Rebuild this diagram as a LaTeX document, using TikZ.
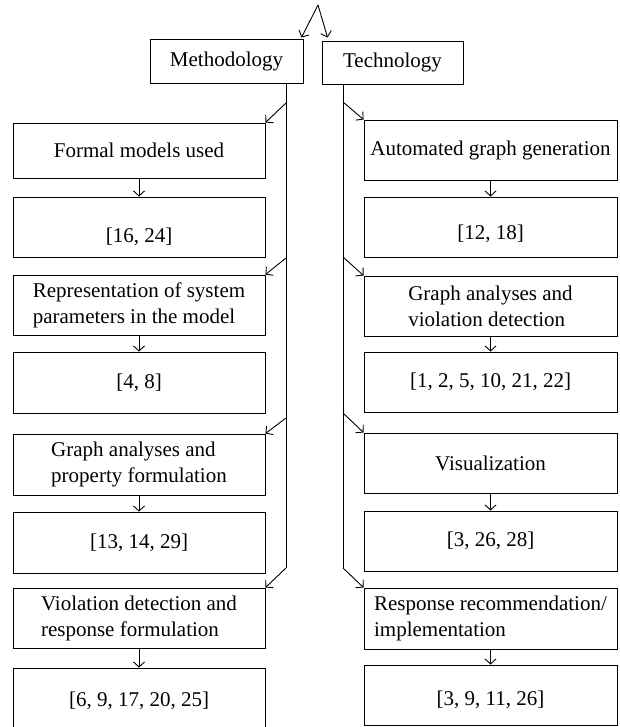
\documentclass[tikz,border=0pt]{standalone}
\usepackage{fontspec}
\setmainfont{Liberation Serif}
\usetikzlibrary{arrows.meta,calc}
\begin{document}
\begin{tikzpicture}[x=1pt,y=-1pt,
  box/.style={draw, line width=0.9pt, align=left, inner sep=0pt, font=\fontsize{21}{26}\selectfont},
  lbox/.style={box, minimum width=252pt},
  rbox/.style={box, minimum width=253pt},
  arr/.style={line width=0.9pt, -{Straight Barb[length=5pt,width=11pt]}},
  ln/.style={line width=0.9pt}]
\useasboundingbox (0,0) rectangle (619,727);
% top
\node[box, minimum width=153pt, minimum height=44pt] (M) at (226.5,61) {Methodology};
\node[box, minimum width=141pt, minimum height=43pt] (T) at (392.5,62.5) {Technology};
\coordinate (apex) at (318,5);
\draw[arr] (apex) -- ($(M.north east)+(-2,-1)$);
\draw[arr] (apex) -- ($(T.north west)+(6,-3)$);
% left column
\node[lbox, minimum height=55pt] (L1) at (139,150.5) {Formal models used};
\node[lbox, minimum height=60pt, text height=30pt, text depth=0pt] (L2) at (139,227) {[16, 24]};
\node[lbox, minimum height=60pt] (L3) at (139,305) {Representation of system\\parameters in the model};
\node[lbox, minimum height=61pt] (L4) at (139,382.5) {[4, 8]};
\node[lbox, minimum height=61pt] (L5) at (139,464.5) {Graph analyses and\\property formulation};
\node[lbox, minimum height=61pt] (L6) at (139,542.5) {[13, 14, 29]};
\node[lbox, minimum height=60pt] (L7) at (139,618) {Violation detection and\\response formulation};
\node[lbox, minimum height=59pt, text height=18pt, text depth=0pt] (L8) at (139,697.5) {[6, 9, 17, 20, 25]};
% right column
\node[rbox, minimum height=60pt] (R1) at (490.5,150) {Automated graph generation};
\node[rbox, minimum height=60pt, text height=24pt, text depth=0pt] (R2) at (490.5,227) {[12, 18]};
\node[rbox, minimum height=60pt] (R3) at (490.5,306) {Graph analyses and\\violation detection};
\node[rbox, minimum height=60pt] (R4) at (490.5,382) {[1, 2, 5, 10, 21, 22]};
\node[rbox, minimum height=60pt] (R5) at (490.5,463) {Visualization};
\node[rbox, minimum height=60pt] (R6) at (490.5,541) {[3, 26, 28]};
\node[rbox, minimum height=61pt] (R7) at (490.5,618.5) {Response recommendation/\\implementation};
\node[rbox, minimum height=60pt, text height=20pt, text depth=0pt] (R8) at (490.5,695) {[3, 9, 11, 26]};
% vertical arrows
\foreach \a/\b in {L1/L2,L3/L4,L5/L6,L7/L8,R1/R2,R3/R4,R5/R6,R7/R8}
  \draw[arr] (\a.south) -- (\b.north);
% left trunk
\coordinate (lt1) at (286,103);
\coordinate (lt2) at (286,258);
\coordinate (lt3) at (286,418);
\coordinate (lt4) at (286,568);
\draw[ln] (lt1 |- M.south) -- (lt4);
\draw[arr] (lt1) -- (L1.north east);
\draw[arr] (lt2) -- (L3.north east);
\draw[arr] (lt3) -- (L5.north east);
\draw[arr] (lt4) -- (L7.north east);
% right trunk
\coordinate (rt1) at (343,102);
\coordinate (rt2) at (343,257);
\coordinate (rt3) at (343,413);
\coordinate (rt4) at (343,568);
\draw[ln] (rt1 |- T.south) -- (rt4);
\draw[arr] (rt1) -- (R1.north west);
\draw[arr] (rt2) -- (R3.north west);
\draw[arr] (rt3) -- (R5.north west);
\draw[arr] (rt4) -- (R7.north west);
\end{tikzpicture}
\end{document}
